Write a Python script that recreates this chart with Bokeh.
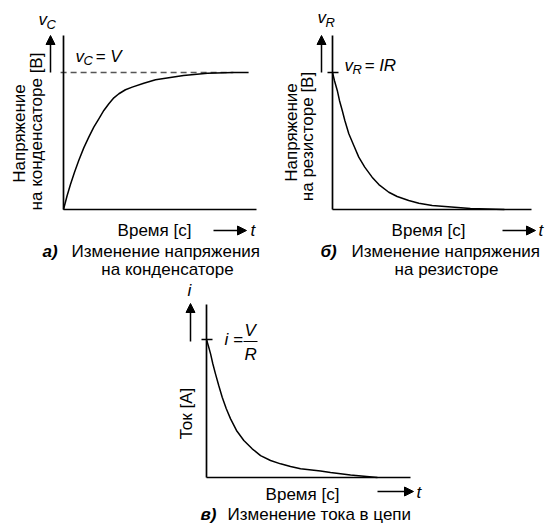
import math
from bokeh.plotting import figure
from bokeh.models import Range1d, Label, Arrow, NormalHead, FixedTicker, Spacer
from bokeh.layouts import row, column
from bokeh.embed import file_html
from bokeh.resources import INLINE

# ---------------- data ----------------
# a) capacitor voltage, v_C / V vs time (arbitrary units 0..10)
t_cap = [0.0, 0.19, 0.36, 0.57, 0.79, 1.05, 1.31, 1.57, 1.83, 2.09, 2.35, 2.61, 2.87,
         3.21, 3.56, 4.16, 4.77, 6.22, 7.46, 8.81, 9.59]
v_cap = [0.0, 0.102, 0.182, 0.272, 0.358, 0.450, 0.528, 0.601, 0.662, 0.723, 0.772, 0.815,
         0.845, 0.874, 0.893, 0.922, 0.947, 0.978, 0.995, 1.0, 1.0]
V_LEVEL = 1.0
asym_t = [-0.15, 8.8]

# b) resistor voltage, v_R / IR
t_res = [0.0, 0.10, 0.24, 0.35, 0.49, 0.62, 0.82, 1.07, 1.32, 1.62, 1.99, 2.33, 2.83,
         3.25, 3.83, 4.34, 5.01, 6.93, 8.64]
v_res = [1.0, 0.94, 0.869, 0.796, 0.723, 0.65, 0.553, 0.467, 0.382, 0.309, 0.236, 0.182,
         0.126, 0.095, 0.066, 0.046, 0.029, 0.007, 0.0]

# c) current, i / (V/R)
t_cur = [0.0, 0.1, 0.2, 0.31, 0.44, 0.6, 0.77, 0.97, 1.18, 1.47, 1.83, 2.24, 2.65, 3.14,
         3.63, 4.12, 4.61, 5.59, 6.08, 7.06, 8.38]
i_cur = [1.0, 0.949, 0.896, 0.824, 0.751, 0.667, 0.582, 0.498, 0.425, 0.341, 0.268, 0.208,
         0.159, 0.123, 0.099, 0.080, 0.063, 0.047, 0.036, 0.018, 0.0]

FONT = "Liberation Sans"
FS = "17px"
SUB = "13px"
SHIFT = 6   # text is drawn a little below its anchor; compensate


class Geo:
    """Canvas box and axis geometry of one panel in window pixels (for placement only)."""
    def __init__(self, ox, oy, w, h, L, R, T, B, level, xmax=10.0):
        self.ox, self.oy, self.w, self.h = ox, oy, w, h
        self.L, self.R, self.T, self.B, self.level, self.xmax = L, R, T, B, level, xmax
        self.ytop = (B - T) / (B - level)

    def x(self, X):
        return (X - self.L) / ((self.R - self.L) / self.xmax)

    def y(self, Y):
        return (self.B - Y) / (self.B - self.level)


def make_fig(g):
    p = figure(width=g.w, height=g.h,
               x_range=Range1d(g.x(g.ox), g.x(g.ox + g.w)),
               y_range=Range1d(g.y(g.oy + g.h), g.y(g.oy)),
               output_backend="svg", toolbar_location=None,
               min_border_left=0, min_border_right=0, min_border_top=0, min_border_bottom=0)
    p.outline_line_color = None
    p.grid.visible = False
    p.background_fill_color = "white"
    p.border_fill_color = "white"
    for ax in p.axis:
        ax.ticker = FixedTicker(ticks=[])
        ax.major_tick_out = 0
        ax.major_tick_in = 0
        ax.minor_tick_out = 0
        ax.minor_tick_in = 0
        ax.major_label_text_font_size = "0px"
        ax.major_label_standoff = 0
        ax.axis_line_width = 1.7
        ax.axis_line_color = "black"
        ax.fixed_location = 0
    p.xaxis.bounds = (0, g.xmax)
    p.yaxis.bounds = (0, g.ytop)
    return p


def text(p, g, X, Y, s, size=FS, style="normal", align="left", angle=0.0):
    if angle:
        X -= SHIFT
    else:
        Y -= SHIFT
    p.add_layout(Label(x=g.x(X), y=g.y(Y), text=s, text_font=FONT, text_font_size=size,
                       text_font_style=style, text_align=align, text_baseline="alphabetic",
                       text_color="black", angle=angle))


def arrow(p, g, X0, Y0, X1, Y1, head=True, width=1.5):
    p.add_layout(Arrow(end=NormalHead(size=9, fill_color="black", line_color="black",
                                      line_width=1) if head else None,
                       x_start=g.x(X0), y_start=g.y(Y0), x_end=g.x(X1), y_end=g.y(Y1),
                       line_width=width, line_color="black"))


# ---------------- panel a ----------------
ga = Geo(0, 0, 274, 280, L=63, R=256, T=35, B=209, level=72)
pa = make_fig(ga)
pa.line(asym_t, [V_LEVEL, V_LEVEL], line_color="#555555", line_width=1.3, line_dash="6 4")
pa.line(t_cap, v_cap, line_color="black", line_width=1.5)
arrow(pa, ga, 50, 72, 50, 35)
text(pa, ga, 38, 25, "v", style="italic")
text(pa, ga, 46, 30, "C", size=SUB, style="italic")
text(pa, ga, 75, 62, "v", style="italic")
text(pa, ga, 83, 66, "C", size=SUB, style="italic")
text(pa, ga, 95, 62, "= V", style="italic")
text(pa, ga, 25, 133, "Напряжение", align="center", angle=math.pi / 2)
text(pa, ga, 42, 131, "на конденсаторе [В]", align="center", angle=math.pi / 2)
text(pa, ga, 154, 236, "Время [с]", align="center")
arrow(pa, ga, 213, 230, 246, 230)
text(pa, ga, 250, 236, "t", style="italic")
text(pa, ga, 42, 257, "а)", style="bold italic")
text(pa, ga, 71, 257, "Изменение напряжения")
text(pa, ga, 167, 275, "на конденсаторе", align="center")

# ---------------- panel b ----------------
gb = Geo(274, 0, 274, 280, L=332, R=531, T=35, B=209, level=72)
pb = make_fig(gb)
pb.line(t_res, v_res, line_color="black", line_width=1.5)
arrow(pb, gb, 321, 72, 321, 35)
arrow(pb, gb, 327, 72, 338, 72, head=False, width=1.3)
text(pb, gb, 317, 23, "v", style="italic")
text(pb, gb, 325, 28, "R", size=SUB, style="italic")
text(pb, gb, 344, 71, "v", style="italic")
text(pb, gb, 352, 75, "R", size=SUB, style="italic")
text(pb, gb, 364, 71, "= IR", style="italic")
text(pb, gb, 297, 132, "Напряжение", align="center", angle=math.pi / 2)
text(pb, gb, 313, 136, "на резисторе [В]", align="center", angle=math.pi / 2)
text(pb, gb, 428, 236, "Время [с]", align="center")
arrow(pb, gb, 502, 230, 535, 230)
text(pb, gb, 538, 236, "t", style="italic")
text(pb, gb, 320, 257, "б)", style="bold italic")
text(pb, gb, 351, 257, "Изменение напряжения")
text(pb, gb, 446, 275, "на резисторе", align="center")

# ---------------- panel c ----------------
gc = Geo(120, 280, 320, 244, L=206, R=410, T=304, B=477, level=339)
pc = make_fig(gc)
pc.line(t_cur, i_cur, line_color="black", line_width=1.5)
arrow(pc, gc, 190, 341, 190, 303)
arrow(pc, gc, 201, 339, 212, 339, head=False, width=1.3)
text(pc, gc, 187, 296, "i", style="italic")
text(pc, gc, 224, 345, "i =", style="italic")
text(pc, gc, 244, 336, "V", style="italic")
arrow(pc, gc, 243, 341, 257, 341, head=False, width=1.2)
text(pc, gc, 244, 360, "R", style="italic")
text(pc, gc, 192, 413, "Ток [А]", align="center", angle=math.pi / 2)
text(pc, gc, 302, 500, "Время [с]", align="center")
arrow(pc, gc, 377, 491, 413, 491)
text(pc, gc, 416, 498, "t", style="italic")
text(pc, gc, 200, 520, "в)", style="bold italic")
text(pc, gc, 227, 520, "Изменение тока в цепи")

layout = column(row(pa, pb), row(Spacer(width=gc.ox, height=gc.h), pc))

open("out.html", "w").write(file_html(layout, INLINE))
